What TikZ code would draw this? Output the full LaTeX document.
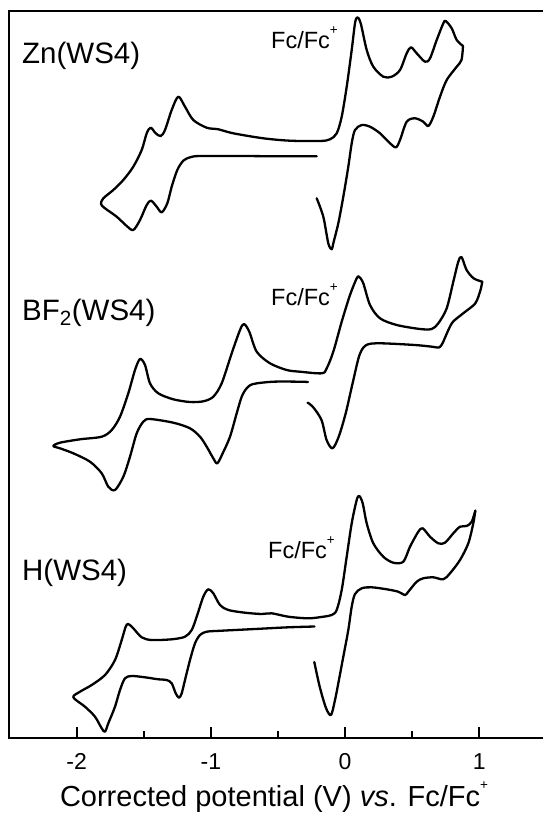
\documentclass[tikz,border=0pt]{standalone}
\usepackage{fontspec}
\setmainfont{Liberation Sans}
\newcommand{\fcplus}{\raisebox{0.58em}{\fontsize{13.5}{13.5}\selectfont +}}
\begin{document}
\begin{tikzpicture}[x=1pt,y=-1pt,
  frame/.style={line width=1.9pt},
  cv/.style={line width=2.3pt, line join=round, line cap=round},
  big/.style={font=\fontsize{29.5}{30}\selectfont, inner sep=0pt, anchor=base west},
  fc/.style={font=\fontsize{23.5}{24}\selectfont, inner sep=0pt, anchor=base west},
  ticklab/.style={font=\fontsize{23}{23}\selectfont, inner sep=0pt, anchor=base},
  ttl/.style={font=\fontsize{29}{30}\selectfont, inner sep=0pt, anchor=base}]
\useasboundingbox (0,0) rectangle (542,816);
% frame
\coordinate (tl) at (9,10.7);
\coordinate (tr) at (560,10.7);
\coordinate (bl) at (9,738.3);
\coordinate (br) at (560,738.3);
\draw[frame] (tr) -- (tl) -- (bl) -- (br);
% ticks
\foreach \v/\n in {-2/a,-1/b,0/c,1/d}{
  \coordinate (M\n) at ({345.1+134.2*\v},738.3);
  \draw[frame] (M\n) -- ++(0,-11.5);
}
\foreach \v/\n in {-1.5/a,-0.5/b,0.5/c}{
  \coordinate (m\n) at ({345.1+134.2*\v},738.3);
  \draw[frame] (m\n) -- ++(0,-7);
}
\node[ticklab] (la) at (76.7,769) {-2};
\node[ticklab] (lb) at (210.9,769) {-1};
\node[ticklab] (lc) at (345.1,769) {0};
\node[ticklab] (ld) at (479.3,769) {1};
\node[ttl] (title) at (274,806.7) {Corrected potential (V) \textit{vs}. Fc/Fc\fcplus};
% labels
\node[big] (zn) at (22,63.3) {Zn(WS4)};
\node[big] (bf) at (22,320) {BF\textsubscript{2}(WS4)};
\node[big] (h) at (22,580) {H(WS4)};
\node[fc] (fc1) at (271,48.5) {Fc/Fc\fcplus};
\node[fc] (fc2) at (271,305) {Fc/Fc\fcplus};
\node[fc] (fc3) at (268,558.3) {Fc/Fc\fcplus};
% Zn curve
\draw[cv] plot[smooth, tension=0.5] coordinates {
(316.7,156.3) (280,156.3) (240,156) (200,156) (190,157.3) (183.3,160.7) (177.3,170) (171.7,186.7) (167.3,203.3) (161.7,212.3) (156.7,206.7) (151,200.7) (146.7,205) (140,220) (133.3,230) (126.7,226) (116.7,216.7) (105,208.3) (101,204) (103.3,198.3) (113.3,190) (123.3,180) (133.3,166.7) (141.7,150) (146.7,133.3) (150.7,127.7) (155.7,133.3) (160.7,136) (165,130) (171.7,110) (178.3,96.7) (185,106.7) (193.3,120) (206.7,127.7) (218.3,129.3) (233.3,133.3) (263.3,138.3) (290,140.7) (320,141) (330,139.3) (336.7,133.3) (341.7,116.7) (346.7,86.7) (351.7,50) (355,23.3) (357.3,17.3) (360.7,23.3) (366.7,50) (373.3,66.7) (383.3,76.7) (391.7,76.7) (400,70) (406.7,53.3) (411,47.3) (416.7,53.3) (425,61.7) (430,58.3) (436.7,40) (443.3,23.3) (445.7,21) (451.7,28.3) (456.7,40) (463,46)};
\draw[cv] plot[smooth, tension=0.5] coordinates {
(463,46) (461.5,60) (456.7,66.7) (446.7,80) (440,96.7) (433.3,116.7) (428.3,126) (423.3,121.7) (415,118.3) (406.7,121.7) (400,140) (396,147.3) (390,143.3) (380,133.3) (370,126.7) (361.7,125) (355,130) (351.7,143.3) (348.3,166.7) (343.3,196.7) (338.3,223.3) (333.3,243.3) (331.7,249.3) (328.3,243.3) (323.3,216.7) (316.7,198.3)};
% BF2 curve
\draw[cv] plot[smooth, tension=0.5] coordinates {
(308,382) (300,381.7) (273.3,381.7) (253.3,384) (246.7,388.3) (241.7,396.7) (236.7,413.3) (230,436.7) (222.7,453.3) (217.3,463.3) (213.3,458.3) (206.7,446.7) (200,436.7) (190,428.3) (173.3,422.7) (150,419) (143.3,421.7) (136.7,433.3) (130,456.7) (123.3,476.7) (115,490) (108.3,486.7) (101.7,473.3) (90,461.7) (73.3,453.3) (60,448.3) (53.3,446) (60,442.7) (80,439.3) (101.7,436.7) (111.7,430) (120,416.7) (128.3,393.3) (135,370) (140,359) (145,365) (150,383.3) (158.3,393.3) (173.3,399.3) (190,402) (203.3,401.3) (213.3,396.7) (221.7,383.3) (231.7,353.3) (240,330) (244,324) (249.3,331.7) (256.7,351.7) (270,363.3) (286.7,370) (300,371.7) (321.7,373.3) (326.7,368.3) (333.3,351.7) (341.7,321.7) (350,295) (356.7,278.3) (359,276.7) (363.3,283.3) (370,305) (380,318.3) (396.7,325) (420,329) (431.7,329) (438.3,323.3) (446.7,308.3) (453.3,281.7) (458.3,261.7) (461.5,257) (466.6,270) (473.6,278.3) (482.2,281.7)};
\draw[cv] plot[smooth, tension=0.5] coordinates {
(482.2,281.7) (480.5,290) (475.3,303.3) (463.2,313.3) (452.8,322) (447.6,331.7) (442.5,343.3) (439,347.5) (432.1,346.7) (414.8,345) (380.2,343.3) (366.4,345) (359.5,355) (352.6,383.3) (345.7,413.3) (338.7,436.7) (332.5,448.3) (326.6,440) (321.5,420) (312.8,406.7) (307.6,402.7)};
% H curve
\draw[cv] plot[smooth, tension=0.5] coordinates {
(314.5,626.5) (288.3,627.3) (255,629) (221.7,630.7) (206.7,631.7) (200,635) (195,643.3) (190,660) (185,680) (181.7,693.3) (179,697.7) (175.7,693.3) (171.7,683.3) (166.7,680) (158.3,679.3) (145,677.3) (131.7,676) (125,678.3) (120,690) (115,706.7) (108.3,723.3) (105,731.7) (101.7,728.3) (95,716.7) (85,706.7) (73.3,697.3) (80,691.7) (91.7,685) (105,675) (115,660) (121.7,640) (125.7,626.7) (128.3,624) (133.3,628.3) (141.7,637.3) (151.7,640) (171.7,639.3) (185,636.7) (191.7,630) (196.7,616.7) (203.3,596.7) (208.3,589.3) (213.3,593.3) (220,605) (228.3,610) (245,612.7) (261.7,614) (271.7,613.3) (288.3,616.7) (308.3,618.3) (323.3,616.7) (331.7,615) (336.7,610) (341.7,590) (346.7,556.7) (351.7,523.3) (356.7,500) (359.3,496) (362.7,503.3) (366.7,523.3) (373.3,543.3) (383.3,556.7) (393.3,562.7) (403.3,561.7) (410,546.7) (418.3,531.7) (422.7,528.3) (430,536.7) (438.3,543.3) (445,542.7) (453.3,533.3) (460,526.7) (466.7,526) (471.7,521.7) (475.3,510.7)};
\draw[cv] plot[smooth, tension=0.5] coordinates {
(475.3,510.7) (473.3,523.3) (468.3,543.3) (460,560) (450,573.3) (443.3,579.3) (433.3,577.3) (423.3,578.3) (416.7,581.7) (408.3,591.7) (405,595) (398.3,591.7) (386.7,589.3) (371.7,587.3) (361.7,588.3) (355,594) (351.7,606.7) (348.3,630) (343.3,656.7) (338.3,683.3) (335,700) (331,715) (326,708) (319.7,686.7) (314.3,662)};
\end{tikzpicture}
\end{document}
